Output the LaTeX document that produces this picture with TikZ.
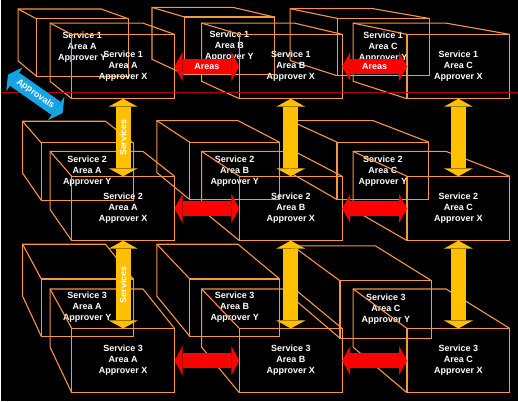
\documentclass[tikz,border=0pt]{standalone}
\usepackage{fontspec}
\setmainfont{Liberation Sans}
\usetikzlibrary{arrows.meta, positioning, calc}

\definecolor{boxorange}{RGB}{247,150,70}
\definecolor{apprblue}{RGB}{20,165,230}
\definecolor{svcgold}{RGB}{255,192,0}
\definecolor{areared}{RGB}{255,0,0}
\definecolor{darkline}{RGB}{180,0,0}

% top and left faces of a box, toward the vanishing point vp
\newcommand{\boxdepth}[1]{%
  \draw[edge] (#1.north east) -- ($(vp)!0.904!(#1.north east)$)
    -- ($(vp)!0.904!(#1.north west)$) -- ($(vp)!0.904!(#1.south west)$)
    -- (#1.south west);
  \draw[edge] (#1.north west) -- ($(vp)!0.904!(#1.north west)$);
}

\begin{document}
\begin{tikzpicture}[
    x=1pt, y=-1pt,
    front/.style={draw=boxorange, line width=1.1pt, rectangle, inner sep=0pt, outer sep=0pt,
      align=center, text=white, font=\bfseries\fontsize{9}{11}\selectfont},
    xbox/.style={front, minimum width=103pt, minimum height=64.5pt},
    ybox/.style={front, minimum width=92pt, minimum height=57.5pt},
    edge/.style={draw=boxorange, line width=1.1pt},
    arr/.style={line width=15pt,
      {Triangle[length=8pt, width=29pt, line width=0pt]}-{Triangle[length=8pt, width=29pt, line width=0pt]}},
    lbl/.style={text=white, inner sep=1pt, font=\bfseries\fontsize{9}{11}\selectfont}
  ]
  \fill[black] (0,0) rectangle (518,402);
  \coordinate (vp) at (-155,-83);

  % approver Y boxes (behind)
  \node[ybox] (s1ay) at (81.7,47.5) {Service 1\\Area A\\Approver Y};
  \node[ybox, minimum width=90pt] (s1by) at (229.2,45.8) {Service 1\\Area B\\Approver Y};
  \node[ybox] (s1cy) at (383.3,47.2) {Service 1\\Area C\\Approver Y};
  \node[ybox] (s2ay) at (86.7,172) {Service 2\\Area A\\Approver Y};
  \node[ybox, minimum width=90pt] (s2by) at (234.5,171.3) {Service 2\\Area B\\Approver Y};
  \node[ybox] (s2cy) at (383,171.2) {Service 2\\Area C\\Approver Y};
  \node[ybox] (s3ay) at (86.7,308.3) {Service 3\\Area A\\Approver Y};
  \node[ybox, minimum width=90pt] (s3by) at (234.5,308.3) {Service 3\\Area B\\Approver Y};
  \node[ybox] (s3cy) at (386,310.2) {Service 3\\Area C\\Approver Y};
  \boxdepth{s1ay} \boxdepth{s1by} \boxdepth{s1cy}
  \boxdepth{s2ay} \boxdepth{s2by} \boxdepth{s2cy}
  \boxdepth{s3ay} \boxdepth{s3by} \boxdepth{s3cy}

  % approver X boxes (front)
  \node[xbox] (s1ax) at (122.7,66.7) {Service 1\\Area A\\Approver X};
  \node[xbox, right=65pt of s1ax] (s1bx) {Service 1\\Area B\\Approver X};
  \node[xbox, right=65pt of s1bx] (s1cx) {Service 1\\Area C\\Approver X};
  \node[xbox, below=77.7pt of s1ax] (s2ax) {Service 2\\Area A\\Approver X};
  \node[xbox, right=65pt of s2ax] (s2bx) {Service 2\\Area B\\Approver X};
  \node[xbox, right=65pt of s2bx] (s2cx) {Service 2\\Area C\\Approver X};
  \node[xbox, below=88pt of s2ax] (s3ax) {Service 3\\Area A\\Approver X};
  \node[xbox, right=65pt of s3ax] (s3bx) {Service 3\\Area B\\Approver X};
  \node[xbox, right=65pt of s3bx] (s3cx) {Service 3\\Area C\\Approver X};
  \boxdepth{s1ax} \boxdepth{s1bx} \boxdepth{s1cx}
  \boxdepth{s2ax} \boxdepth{s2bx} \boxdepth{s2cx}
  \boxdepth{s3ax} \boxdepth{s3bx} \boxdepth{s3cx}

  \draw[darkline, line width=0.8pt] (0,92.3) -- (518,92.3);

  % areas
  \draw[arr, areared] (s1ax.east) -- node[lbl]{Areas} (s1bx.west);
  \draw[arr, areared] (s1bx.east) -- node[lbl]{Areas} (s1cx.west);
  \draw[arr, areared] (s2ax.east) -- (s2bx.west);
  \draw[arr, areared] (s2bx.east) -- (s2cx.west);
  \draw[arr, areared] (s3ax.east) -- (s3bx.west);
  \draw[arr, areared] (s3bx.east) -- (s3cx.west);

  % services
  \draw[arr, svcgold] (s1ax.south) -- node[lbl, rotate=90]{Services} (s2ax.north);
  \draw[arr, svcgold] (s2ax.south) -- node[lbl, rotate=90]{Services} (s3ax.north);
  \draw[arr, svcgold] (s1bx.south) -- (s2bx.north);
  \draw[arr, svcgold] (s2bx.south) -- (s3bx.north);
  \draw[arr, svcgold] (s1cx.south) -- (s2cx.north);
  \draw[arr, svcgold] (s2cx.south) -- (s3cx.north);

  % approvals
  \coordinate (ap1) at (7.3,74.8);
  \coordinate (ap2) at (62.1,113.2);
  \draw[arr, apprblue, line width=16pt] (ap1) -- node[lbl, sloped]{Approvals} (ap2);
\end{tikzpicture}
\end{document}
